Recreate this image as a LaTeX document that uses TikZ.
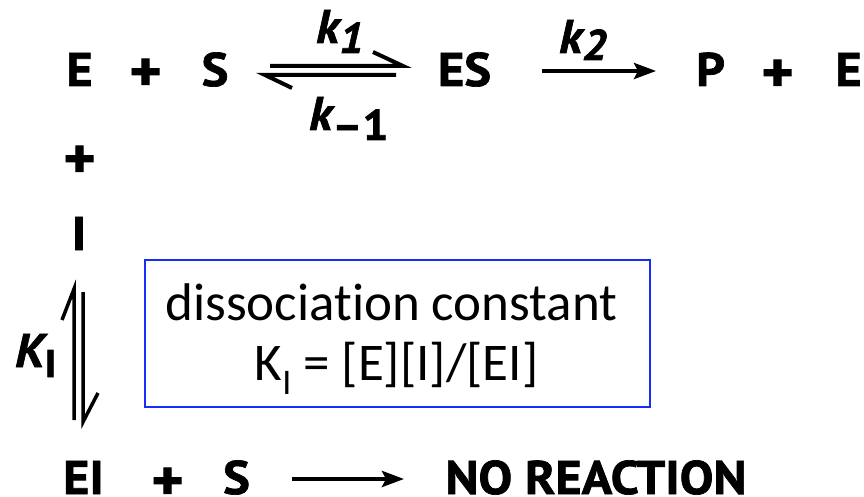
\documentclass[tikz,border=0pt]{standalone}
\usepackage{fontspec}
\setmainfont{Carlito}[Ligatures=NoCommon]
\newfontfamily\chem{PT Sans}[BoldFeatures={FakeBold=1.5,FakeStretch=1.07},BoldItalicFeatures={FakeBold=1.5,FakeStretch=1.05}]
\usetikzlibrary{arrows.meta}
\definecolor{boxblue}{RGB}{25,45,250}
\newlength\capht
\newcommand\capsz[1]{%
  \fontsize{100pt}{100pt}\selectfont
  \settoheight{\capht}{E}%
  \pgfmathsetmacro\fszval{#1*100/\capht}%
  \fontsize{\fszval pt}{\fszval pt}\selectfont}
\tikzset{
  chemtxt/.style={font={\chem\bfseries\capsz{33}}, inner sep=0pt, anchor=base},
  plusnode/.style={font={\chem\bfseries\capsz{33}}, inner sep=0pt, anchor=center},
  rate/.style={font={\chem\bfseries\itshape\capsz{33}}, inner sep=0pt, anchor=base west},
  harp/.style={line width=4pt, line cap=butt, line join=miter},
  fwd/.style={line width=4pt, -{Stealth[length=22pt,width=16pt,inset=4pt]}},
  infobox/.style={draw=boxblue, line width=2pt, inner sep=0pt},
  boxtxt/.style={font=\fontsize{53}{56}\selectfont, inner sep=0pt, anchor=base}
}
\newcommand\bigplus{\scalebox{1.22}{+}}
\begin{document}
\begin{tikzpicture}[x=1pt,y=-1pt]
\useasboundingbox (0,0) rectangle (864,497);
% top row
\node[chemtxt] (E1) at (79.5,86) {E};
\node[plusnode] (p1) at (145.5,75) {\bigplus};
\node[chemtxt] (S1) at (215,86) {S};
\node[chemtxt] (ES) at (464.5,86) {ES};
\node[chemtxt] (P) at (710.5,86) {P};
\node[plusnode] (p2) at (777.5,76) {\bigplus};
\node[chemtxt] (E2) at (848.5,86) {E};
% rate constants
\node[rate] (k1) at (316,43) {k\raisebox{-10pt}{\capsz{30}1}};
\node[rate] (km1) at (309,130) {k\raisebox{-10pt}{\capsz{30}\upshape\textendash 1}};
\node[rate] (k2) at (559,53) {k\raisebox{-7pt}{\capsz{30}2}};
% equilibrium S <=> ES
\coordinate (fa) at (270,66);
\coordinate (fb) at (403,66);
\coordinate (fc) at (373,52);
\coordinate (ra) at (396,75);
\coordinate (rb) at (265,75);
\coordinate (rc) at (292,88);
\draw[harp] (fa) -- (fb) -- (fc);
\draw[harp] (ra) -- (rb) -- (rc);
% ES -> P
\coordinate (a2s) at (542,71);
\coordinate (a2e) at (656,71);
\draw[fwd] (a2s) -- (a2e);
% left column
\node[plusnode] (p3) at (79.5,162) {\bigplus};
\node[chemtxt] (I) at (79,250) {I};
% vertical equilibrium
\coordinate (va) at (74,420);
\coordinate (vb) at (74,289);
\coordinate (vc) at (62,320);
\coordinate (wa) at (83,292);
\coordinate (wb) at (83,422);
\coordinate (wc) at (98,393);
\draw[harp, line width=3.5pt] (va) -- (vb) -- (vc);
\draw[harp, line width=3.5pt] (wa) -- (wb) -- (wc);
\node[rate] (KI) at (15,367) {K\raisebox{-10pt}{\capsz{27}\upshape I}};
% info box
\node[infobox, minimum width=505pt, minimum height=147pt] (box) at (397.5,333.5) {};
\node[boxtxt] (bt1) at (391.5,320) {dissociation constant};
\node[boxtxt] (bt2) at (396.5,380) {K\raisebox{-14pt}{\fontsize{36}{38}\selectfont I} = [E][I]/[EI]};
% bottom row
\node[chemtxt] (EI) at (83.5,494) {EI};
\node[plusnode] (p4) at (167.5,484) {\bigplus};
\node[chemtxt] (S2) at (236.5,494) {S};
\coordinate (a3s) at (292,479);
\coordinate (a3e) at (404,479);
\draw[fwd] (a3s) -- (a3e);
\node[chemtxt] (NR) at (596,494) {NO REACTION};
\end{tikzpicture}
\end{document}
